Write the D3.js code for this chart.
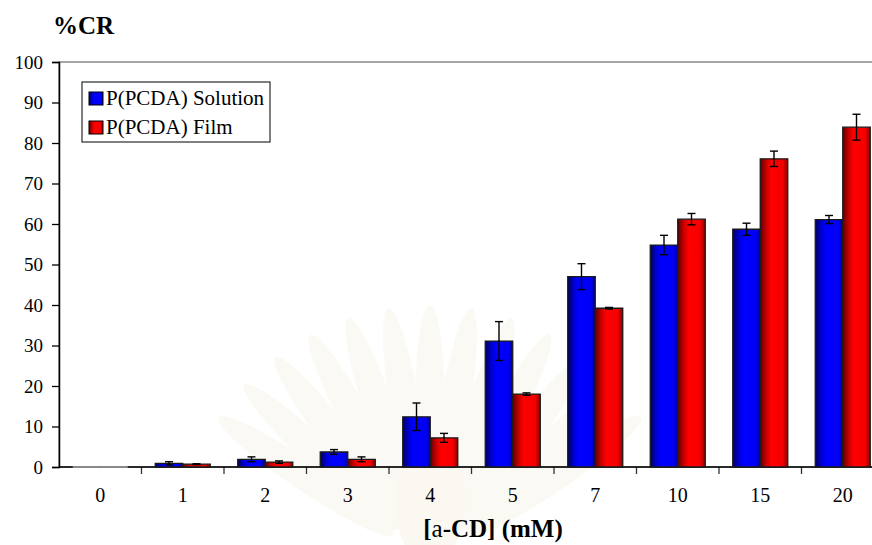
<html>
<head>
<meta charset="utf-8">
<script src="https://cdn.jsdelivr.net/npm/d3@7"></script>
</head>
<body style="margin:0">
<svg id="chart" width="872" height="545"></svg>
<script>
// alpha-CD concentration (mM) versus colour response (%CR) of the two P(PCDA) forms
const categories = ["0", "1", "2", "3", "4", "5", "7", "10", "15", "20"];
const seriesNames = ["P(PCDA) Solution", "P(PCDA) Film"];
const solutionValues = [0, 0.9, 1.9, 3.7, 12.4, 31.1, 47.0, 54.8, 58.7, 61.1];
const solutionErrors = [0, 0.4, 0.6, 0.6, 3.4, 4.8, 3.2, 2.4, 1.5, 1.0];
const filmValues = [0, 0.7, 1.2, 1.9, 7.2, 18.0, 39.2, 61.2, 76.1, 83.9];
const filmErrors = [0, 0.1, 0.3, 0.6, 1.1, 0.3, 0.2, 1.4, 1.9, 3.2];
const yTicks = [0, 10, 20, 30, 40, 50, 60, 70, 80, 90, 100];

const FONT = "Liberation Serif";
const svg = d3.select("#chart");
const plotLeft = 59, plotTop = 62, plotBottom = 467, plotRight = 884;

// Gradient fills: dark edge on the left, bright body, slightly shaded right edge
const defs = svg.append("defs");
const gradients = [
  { id: "gradBlue", stops: [["0%", "#000060"], ["22%", "#0000d0"], ["40%", "#0000ff"], ["85%", "#0000f4"], ["100%", "#000090"]] },
  { id: "gradRed", stops: [["0%", "#600000"], ["22%", "#c80000"], ["40%", "#ff0000"], ["82%", "#f40000"], ["100%", "#8a0000"]] }
];
gradients.forEach(g => {
  const lg = defs.append("linearGradient").attr("id", g.id)
    .attr("x1", "0%").attr("x2", "100%").attr("y1", "0%").attr("y2", "0%");
  g.stops.forEach(s => lg.append("stop").attr("offset", s[0]).attr("stop-color", s[1]));
});
const fills = ["url(#gradBlue)", "url(#gradRed)"];

// Faint emblem watermark behind the plot
const wm = svg.append("g").attr("transform", "translate(430,560)").attr("opacity", 0.25);
d3.range(-56, 57, 9.33).forEach(a => {
  wm.append("ellipse")
    .attr("cx", 0).attr("cy", -150).attr("rx", 15).attr("ry", 105)
    .attr("transform", `rotate(${a})`)
    .attr("fill", "#f3ead0");
});
wm.append("ellipse").attr("cx", 0).attr("cy", -60).attr("rx", 35).attr("ry", 65).attr("fill", "#efe5c8");

const x = d3.scaleBand().domain(categories).range([plotLeft, plotRight])
  .paddingInner(1 / 3).paddingOuter(1 / 6);
const xSub = d3.scaleBand().domain([0, 1]).range([0, x.bandwidth()]);
const y = d3.scaleLinear().domain([0, 100]).range([plotBottom, plotTop]);

// Plot-area frame (only the top edge remains visible)
svg.append("rect")
  .attr("x", plotLeft).attr("y", y(100))
  .attr("width", plotRight - plotLeft + 20).attr("height", plotBottom - y(100))
  .attr("fill", "none").attr("stroke", "#8a8a8a").attr("stroke-width", 1.5);

// Y axis
const yAxis = svg.append("g").attr("transform", `translate(${plotLeft},0)`)
  .call(d3.axisLeft(y).tickValues(yTicks).tickSize(7).tickPadding(9).tickFormat(d3.format("d")));
yAxis.attr("font-family", FONT).attr("font-size", 19);
yAxis.select(".domain").attr("stroke", "#000").attr("stroke-width", 1.5);
yAxis.selectAll(".tick line").attr("stroke", "#000").attr("stroke-width", 1.3);
yAxis.selectAll(".tick text").style("font-family", FONT).style("font-size", "19px").attr("fill", "#000");

// X axis: labels centred on groups, tick marks between groups
const xAxis = svg.append("g").attr("transform", `translate(0,${plotBottom})`)
  .call(d3.axisBottom(x).tickSize(0).tickPadding(21));
xAxis.attr("font-family", FONT).attr("font-size", 20);
xAxis.select(".domain").remove();
xAxis.selectAll(".tick text").style("font-family", FONT).style("font-size", "20px").attr("fill", "#000");

const boundaries = categories.slice(1).map(c => x(c) - x.step() * x.paddingInner() / 2);
svg.append("g").selectAll("line").data(boundaries).join("line")
  .attr("x1", d => d).attr("x2", d => d)
  .attr("y1", plotBottom).attr("y2", plotBottom + 7)
  .attr("stroke", "#333").attr("stroke-width", 1.3);

svg.append("line")
  .attr("x1", plotLeft).attr("x2", 872).attr("y1", plotBottom).attr("y2", plotBottom)
  .attr("stroke", "#000").attr("stroke-width", 1.5);

// Bars with error bars
const rows = categories.map((c, i) => ({
  cat: c,
  vals: [
    { s: 0, v: solutionValues[i], e: solutionErrors[i] },
    { s: 1, v: filmValues[i], e: filmErrors[i] }
  ]
}));

const groups = svg.append("g").selectAll("g").data(rows).join("g")
  .attr("transform", d => `translate(${x(d.cat)},0)`);

groups.selectAll("path.bar").data(d => d.vals).join("path")
  .attr("class", "bar")
  .attr("d", d => {
    const p = d3.path();
    const x0 = xSub(d.s), x1 = x0 + xSub.bandwidth();
    p.moveTo(x0, y(0)); p.lineTo(x0, y(d.v)); p.lineTo(x1, y(d.v)); p.lineTo(x1, y(0)); p.closePath();
    return p.toString();
  })
  .attr("fill", d => fills[d.s])
  .attr("stroke", d => d.v === 0 ? "#aaa" : "#1a1a1a")
  .attr("stroke-width", 1.3);

const capHalf = 4;
const err = groups.selectAll("g.err").data(d => d.vals.filter(v => v.v > 0)).join("g")
  .attr("class", "err")
  .attr("transform", d => `translate(${xSub(d.s) + xSub.bandwidth() / 2},0)`)
  .attr("stroke", "#000").attr("stroke-width", 1.4);
err.append("line").attr("y1", d => y(d.v + d.e)).attr("y2", d => y(d.v - d.e));
err.append("line").attr("x1", -capHalf).attr("x2", capHalf)
  .attr("y1", d => y(d.v + d.e)).attr("y2", d => y(d.v + d.e));
err.append("line").attr("x1", -capHalf).attr("x2", capHalf)
  .attr("y1", d => y(d.v - d.e)).attr("y2", d => y(d.v - d.e));

// Legend
const legend = svg.append("g").attr("transform", "translate(82,82)");
legend.append("rect").attr("width", 188).attr("height", 60)
  .attr("fill", "#fff").attr("stroke", "#000").attr("stroke-width", 1);
seriesNames.forEach((name, i) => {
  const row = legend.append("g").attr("transform", `translate(0,${10 + i * 29})`);
  row.append("rect").attr("x", 7).attr("y", 0).attr("width", 14).attr("height", 13)
    .attr("fill", fills[i]).attr("stroke", "#000").attr("stroke-width", 1);
  row.append("text").attr("x", 24).attr("y", 12.5)
    .style("font-family", FONT).style("font-size", "21px").attr("fill", "#000").text(name);
});

// Axis titles
svg.append("text").attr("x", 53).attr("y", 34)
  .style("font-family", FONT).style("font-size", "25px").style("font-weight", "bold")
  .attr("fill", "#000").text("%CR");

const xTitle = svg.append("text").attr("x", 493).attr("y", 537)
  .attr("text-anchor", "middle")
  .style("font-family", FONT).style("font-size", "25px").attr("fill", "#000");
xTitle.append("tspan").style("font-weight", "bold").text("[");
xTitle.append("tspan").text("a");
xTitle.append("tspan").style("font-weight", "bold").text("-CD] (mM)");
</script>
</body>
</html>
